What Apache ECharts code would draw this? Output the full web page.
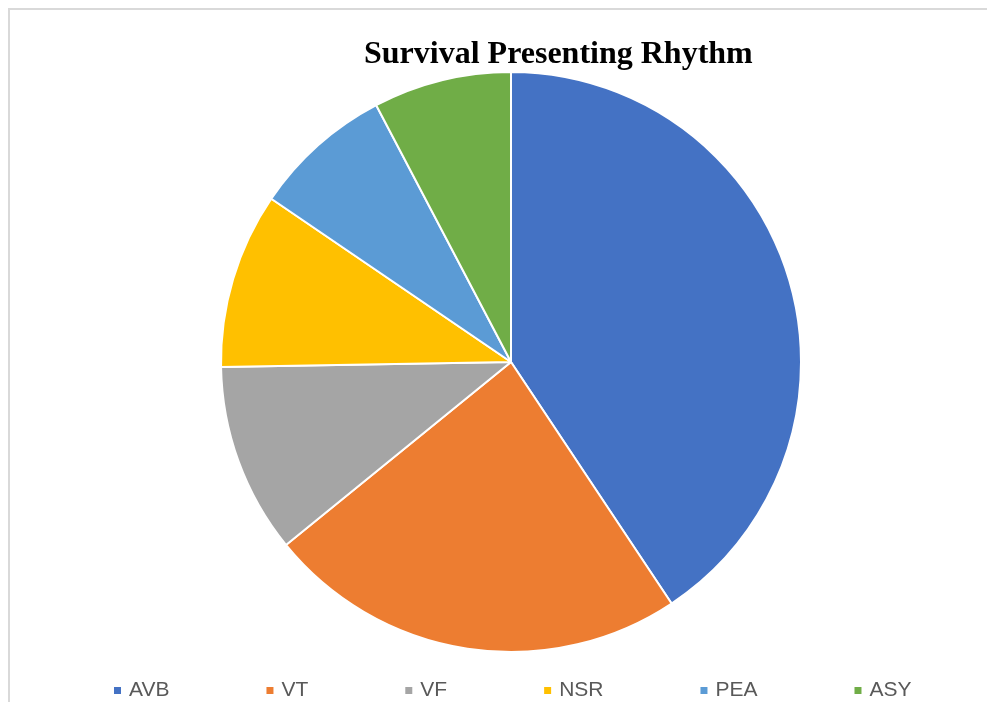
<!DOCTYPE html>
<html>
<head>
<meta charset="utf-8">
<title>Survival Presenting Rhythm</title>
<script src="https://cdn.jsdelivr.net/npm/echarts@6/dist/echarts.min.js"></script>
<style>
  html, body { margin: 0; padding: 0; background: #fff; }
  #chart { width: 987px; height: 702px; }
</style>
</head>
<body>
<div id="chart"></div>
<script>
// rhythm categories and their share of survivors (%)
const rhythms = ["AVB", "VT", "VF", "NSR", "PEA", "ASY"];
const survivalPct = [40.7, 23.5, 10.6, 9.8, 7.8, 7.7];
const sliceColors = ["#4472C4", "#ED7D31", "#A5A5A5", "#FFC000", "#5B9BD5", "#70AD47"];

const chart = echarts.init(document.getElementById("chart"));

chart.setOption({
  backgroundColor: "#fff",
  animation: false,
  color: sliceColors,
  title: {
    text: "Survival Presenting Rhythm",
    left: 359,
    top: 34,
    textStyle: {
      fontFamily: "Liberation Serif",
      fontWeight: "bold",
      fontSize: 32,
      color: "#000",
    },
  },
  legend: {
    top: 675,
    left: 107,
    itemWidth: 9,
    itemHeight: 9,
    itemGap: 95,
    icon: "rect",
    selectedMode: false,
    textStyle: { fontFamily: "Liberation Sans", fontSize: 21, color: "#595959", padding: [0, 0, 0, 2] },
    data: rhythms,
  },
  graphic: [
    {
      type: "rect",
      silent: true,
      shape: { x: 9, y: 9, width: 1200, height: 1000 },
      style: { fill: "none", stroke: "#d9d9d9", lineWidth: 2 },
    },
  ],
  series: [
    {
      type: "pie",
      center: [511, 362],
      radius: 290,
      startAngle: 90,
      clockwise: true,
      label: { show: false },
      labelLine: { show: false },
      itemStyle: { borderColor: "#fff", borderWidth: 2 },
      emphasis: { disabled: true },
      data: rhythms.map((name, i) => ({ name, value: survivalPct[i] })),
    },
  ],
});
</script>
</body>
</html>
